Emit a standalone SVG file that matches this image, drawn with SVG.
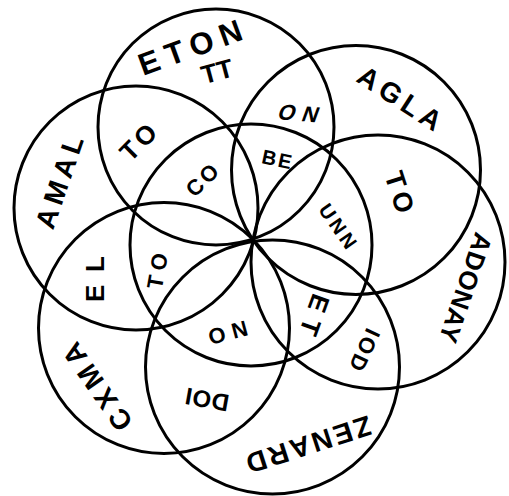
<svg xmlns="http://www.w3.org/2000/svg" width="509" height="496" viewBox="0 0 509 496">
<style>
.c{fill:none;stroke:#000;stroke-width:3}
.t{font-family:"Liberation Sans","DejaVu Sans",sans-serif;font-weight:700;fill:#000;text-anchor:middle}
</style>
<rect width="509" height="496" fill="#fff"/>
<g id="circles">
<g id="central"><circle class="c" cx="251" cy="245" r="121"/></g>
<g id="eton"><circle class="c" cx="216" cy="127" r="118"/>
<text class="t" font-size="31" textLength="108" transform="translate(190,47) rotate(-20)" dy="0.36em">ETON</text>
<text class="t" font-size="26" textLength="32" transform="translate(217,71) rotate(-15)" dy="0.36em">TT</text></g>
<g id="agla"><circle class="c" cx="356" cy="170" r="124.5"/>
<text class="t" font-size="28" textLength="94" transform="translate(400,98) rotate(33)" dy="0.36em">AGLA</text></g>
<g id="adonay"><circle class="c" cx="378" cy="262" r="127"/>
<text class="t" font-size="26" textLength="114" transform="translate(466,288) rotate(109)" dy="0.36em">ADONAY</text></g>
<g id="zenard"><circle class="c" cx="272.5" cy="367" r="127"/>
<text class="t" font-size="28" textLength="130" transform="translate(309,445) rotate(162)" dy="0.36em">ZENARD</text></g>
<g id="cxma"><circle class="c" cx="164" cy="328" r="125.5"/>
<text class="t" font-size="28" textLength="100" transform="translate(97,387) rotate(235)" dy="0.36em">CXMA</text></g>
<g id="amal"><circle class="c" cx="136" cy="208" r="122"/>
<text class="t" font-size="28" textLength="96" transform="translate(59,182) rotate(-71)" dy="0.36em">AMAL</text></g>
</g>
<g id="regions">
<text class="t" font-size="26" textLength="40" transform="translate(138,142) rotate(-45)" dy="0.36em">TO</text>
<text class="t" font-size="22" textLength="40" transform="translate(299,113) rotate(5) skewX(-15)" dy="0.36em">ON</text>
<text class="t" font-size="27" textLength="42" transform="translate(400,192) rotate(72)" dy="0.36em">TO</text>
<text class="t" font-size="22" textLength="36" transform="translate(202,180) rotate(-45)" dy="0.36em">CO</text>
<text class="t" font-size="20" textLength="30" transform="translate(277,159) rotate(12)" dy="0.36em">BE</text>
<text class="t" font-size="20" textLength="50" transform="translate(338,226) rotate(55)" dy="0.36em">UNN</text>
<text class="t" font-size="26" textLength="42" transform="translate(315,315) rotate(110)" dy="0.36em">ET</text>
<text class="t" font-size="22" textLength="40" transform="translate(228,333) rotate(165)" dy="0.36em">NO</text>
<text class="t" font-size="22" textLength="36" transform="translate(157,271) rotate(-80)" dy="0.36em">TO</text>
<text class="t" font-size="26" textLength="46" transform="translate(95,279) rotate(-90)" dy="0.36em">EL</text>
<text class="t" font-size="22" textLength="44" transform="translate(365,350) rotate(115)" dy="0.36em">IOD</text>
<text class="t" font-size="24" textLength="44" transform="translate(207,400) rotate(190)" dy="0.36em">DOI</text>
</g>
</svg>
